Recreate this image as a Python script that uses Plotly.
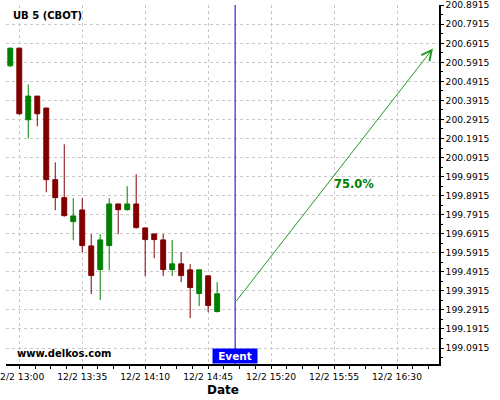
import plotly.graph_objects as go

day = "2023-12-02"
times = ["12:55", "13:00", "13:05", "13:10", "13:15", "13:20", "13:25", "13:30",
         "13:35", "13:40", "13:45", "13:50", "13:55", "14:00", "14:05", "14:10",
         "14:15", "14:20", "14:25", "14:30", "14:35", "14:40", "14:45", "14:50"]
opens = [200.5732, 200.6660, 200.2900, 200.4143, 200.3515, 199.9755, 199.8810, 199.7552,
         199.8165, 199.6277, 199.5035, 199.6293, 199.8480, 199.8180, 199.8480, 199.7221,
         199.6907, 199.6592, 199.5035, 199.5333, 199.5019, 199.3776, 199.4704, 199.2833]
highs = [200.6660, 200.6660, 200.4757, 200.4143, 200.3515, 200.0665, 200.1610, 199.8780,
         199.8780, 199.6890, 199.6890, 199.8780, 199.8480, 199.9408, 200.0037, 199.7221,
         199.6907, 199.6907, 199.6592, 199.5947, 199.5318, 199.5019, 199.4704, 199.4374]
lows = [200.5680, 200.3160, 200.1925, 200.2555, 199.9093, 199.8150, 199.7810, 199.6576,
        199.5947, 199.3745, 199.3430, 199.5003, 199.6890, 199.8130, 199.7190, 199.4690,
        199.5632, 199.4690, 199.4690, 199.4374, 199.2486, 199.3115, 199.2801, 199.2780]
closes = [200.6660, 200.3215, 200.4143, 200.3215, 199.9755, 199.8810, 199.7866, 199.7850,
          199.6293, 199.4720, 199.6592, 199.8480, 199.8180, 199.8480, 199.7237, 199.6608,
          199.6608, 199.5035, 199.5333, 199.4720, 199.4090, 199.5019, 199.3147, 199.3760]

event_time = "15:00"
arrow_start = ("15:00", 199.3305)
arrow_end = ("16:50", 200.6645)
forecast_label = "75.0%"
label_pos = ("16:06", 199.9544)
title_text = "UB 5 (CBOT)"
watermark = "www.delkos.com"

x_range = ["2023-12-02 12:52:37", "2023-12-02 16:53:20"]
y_range = [199.0076, 200.8925]

def ts(t):
    return f"{day} {t}:00"

FONT = "DejaVu Sans"
RED = "#800000"
GREEN = "#008000"

fig = go.Figure()
fig.add_trace(go.Candlestick(
    x=[ts(t) for t in times], open=opens, high=highs, low=lows, close=closes,
    increasing=dict(line=dict(color=GREEN, width=1), fillcolor=GREEN),
    decreasing=dict(line=dict(color=RED, width=1), fillcolor=RED),
    whiskerwidth=0, showlegend=False, hoverinfo="skip",
))

fig.add_shape(type="line", xref="x", yref="paper", x0=ts(event_time), x1=ts(event_time),
              y0=0, y1=1, line=dict(color="#0000dd", width=1))

annotations = [
    dict(xref="x", yref="y", axref="x", ayref="y",
         x=ts(arrow_end[0]), y=arrow_end[1], ax=ts(arrow_start[0]), ay=arrow_start[1],
         text="", showarrow=True, arrowhead=5, arrowsize=2, arrowwidth=1,
         arrowcolor="#229922", standoff=0, startstandoff=0),
    dict(xref="x", yref="y", x=ts(label_pos[0]), y=label_pos[1], text=f"<b>{forecast_label}</b>",
         showarrow=False, xanchor="center", yanchor="middle",
         font=dict(family=FONT, size=11.5, color=GREEN)),
    dict(xref="x", yref="paper", x=ts(event_time), y=0, text="<b>Event</b>",
         showarrow=False, xanchor="center", yanchor="bottom", bgcolor="#0000ff",
         width=44, height=14, borderpad=0,
         font=dict(family=FONT, size=10.5, color="white")),
    dict(xref="paper", yref="paper", x=0.0108, y=0.970, text=f"<b>{title_text}</b>",
         showarrow=False, xanchor="left", yanchor="middle",
         font=dict(family=FONT, size=10, color="black")),
    dict(xref="paper", yref="paper", x=0.0208, y=0.0287, text=f"<b>{watermark}</b>",
         showarrow=False, xanchor="left", yanchor="middle",
         font=dict(family=FONT, size=10, color="black")),
    dict(xref="paper", yref="paper", x=0.5, y=-0.0715, text="<b>Date</b>",
         showarrow=False, xanchor="center", yanchor="middle",
         font=dict(family=FONT, size=12, color="black")),
]

fig.update_layout(
    width=500, height=400,
    margin=dict(l=6, r=61, t=5, b=36, autoexpand=False),
    paper_bgcolor="white", plot_bgcolor="white",
    font=dict(family=FONT, size=9.2, color="black"),
    boxgap=0.22,
    annotations=annotations,
    showlegend=False,
    xaxis=dict(
        type="date", range=x_range, rangeslider=dict(visible=False), automargin=False,
        tick0="2023-12-02 13:00:00", dtick=35 * 60 * 1000, tickformat="%-m/%-d %H:%M",
        showgrid=True, gridcolor="#c8c8c8", griddash="3px,3px", gridwidth=1,
        showline=True, linecolor="black", linewidth=1.5,
        ticks="outside", ticklen=3, tickcolor="black", ticklabeloverflow="allow",
        minor=dict(dtick=35 * 60 * 1000 / 4, tick0="2023-12-02 13:00:00", ticks="outside",
                   ticklen=3, tickcolor="black", showgrid=False),
        zeroline=False, fixedrange=True,
    ),
    yaxis=dict(
        side="right", range=y_range, tick0=199.0915, dtick=0.1, tickformat=".4f",
        automargin=False,
        showgrid=True, gridcolor="#c8c8c8", griddash="3px,3px", gridwidth=1,
        showline=True, linecolor="black", linewidth=1.5,
        ticks="outside", ticklen=3, tickcolor="black", ticklabeloverflow="allow",
        minor=dict(dtick=0.05, tick0=199.0915, ticks="outside", ticklen=2,
                   tickcolor="black", showgrid=False),
        zeroline=False, fixedrange=True,
    ),
)

fig.write_html("out.html", config={"displayModeBar": False},
               post_script="document.body.style.margin='0';document.body.style.padding='0';")
